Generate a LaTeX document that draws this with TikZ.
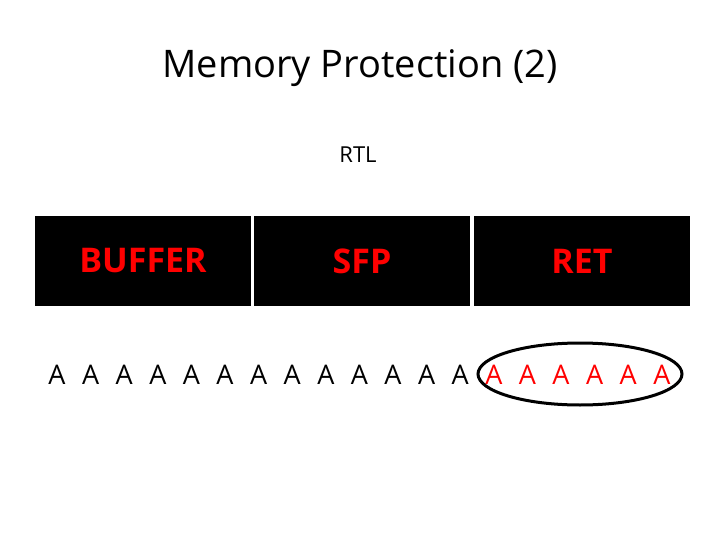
\documentclass[tikz,border=0pt]{standalone}
\usepackage{fontspec}
\setmainfont{Open Sans}
\begin{document}
\begin{tikzpicture}[x=1pt,y=-1pt,
  cell/.style={fill=black,draw=white,line width=1.5pt,minimum width=218pt,minimum height=92pt,inner sep=0pt,text=red,font=\fontsize{34}{40}\selectfont\bfseries},
  letA/.style={font=\fontsize{27}{30}\selectfont,inner sep=0pt}]
\useasboundingbox (0,0) rectangle (720,540);
\node (title) at (360,68) {\fontsize{38}{44}\selectfont Memory Protection (2)};
\node (rtl) at (358,155) {\fontsize{22}{26}\selectfont RTL};
\node[cell] (buf) at (143,261) {BUFFER};
\node[cell] (sfp) at (362,261) {SFP};
\node[cell] (ret) at (582,261) {RET};
\foreach \i in {0,...,12} \node[letA] (a\i) at (57+33.6*\i,375) {A};
\foreach \i in {13,...,18} \node[letA,text=red] (a\i) at (57+33.6*\i,375) {A};
\draw[line width=3pt] (580,374) ellipse (102 and 31);
\end{tikzpicture}
\end{document}
